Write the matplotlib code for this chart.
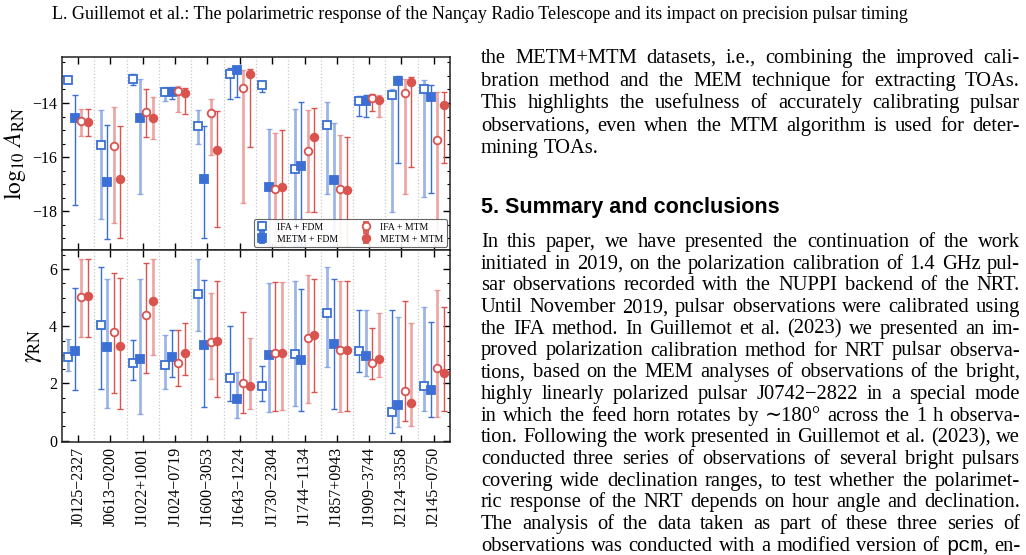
import numpy as np
import matplotlib
matplotlib.use("Agg")
import matplotlib.pyplot as plt
from matplotlib.ticker import MultipleLocator
from matplotlib.font_manager import FontProperties

#=========== Data ================
pulsars = ["J0125\u22122327", "J0613\u22120200", "J1022+1001", "J1024\u22120719",
           "J1600\u22123053", "J1643\u22121224", "J1730\u22122304", "J1744\u22121134",
           "J1857+0943", "J1909\u22123744", "J2124\u22123358", "J2145\u22120750"]

# log10 A_RN : median, lower and upper bounds
lgA_ifa_fdm = [-13.15, -15.56, -13.10, -13.61, -14.85, -12.94, -13.33, -16.45, -14.83, -13.94, -13.70, -13.47]
lgA_ifa_fdm_lo = [-13.18, -18.30, -13.35, -13.94, -15.50, -13.85, -13.61, -19.30, -17.36, -14.47, -18.01, -17.47]
lgA_ifa_fdm_hi = [-13.12, -14.25, -12.93, -13.40, -14.25, -12.70, -13.21, -14.21, -13.98, -13.73, -13.49, -13.16]

lgA_metm_fdm = [-14.56, -16.93, -14.54, -13.60, -16.79, -12.77, -17.11, -16.31, -16.85, -13.93, -13.19, -13.79]
lgA_metm_fdm_lo = [-17.77, -19.03, -17.36, -13.85, -18.98, -13.76, -19.30, -19.30, -19.30, -14.52, -16.22, -17.31]
lgA_metm_fdm_hi = [-13.72, -14.83, -13.11, -13.42, -14.85, -12.69, -14.96, -13.96, -14.74, -13.72, -12.99, -13.33]

lgA_ifa_mtm = [-14.68, -15.59, -14.32, -13.54, -14.38, -13.43, -17.17, -15.79, -17.19, -13.81, -13.63, -15.36]
lgA_ifa_mtm_lo = [-15.21, -18.42, -15.25, -14.35, -15.91, -17.71, -19.30, -18.01, -19.30, -14.29, -17.36, -19.30]
lgA_ifa_mtm_hi = [-14.21, -14.14, -13.47, -13.36, -13.87, -12.79, -15.12, -14.27, -15.20, -13.68, -13.10, -13.59]

lgA_metm_mtm = [-14.69, -16.81, -14.57, -13.63, -15.72, -12.94, -17.09, -15.26, -17.22, -13.88, -13.21, -14.07]
lgA_metm_mtm_lo = [-15.21, -19.00, -15.32, -14.40, -18.58, -15.63, -19.30, -18.01, -19.30, -14.51, -16.37, -16.20]
lgA_metm_mtm_hi = [-14.21, -14.86, -13.76, -13.44, -14.29, -12.76, -15.00, -14.20, -15.24, -13.72, -13.05, -13.59]

# gamma_RN : median, lower and upper bounds
gam_ifa_fdm = [2.93, 4.06, 2.71, 2.63, 5.12, 2.19, 1.90, 3.02, 4.45, 3.13, 1.00, 1.91]
gam_ifa_fdm_lo = [2.45, 1.81, 2.11, 1.80, 3.84, 1.39, 1.37, 1.21, 2.57, 2.39, 0.25, 1.05]
gam_ifa_fdm_hi = [3.55, 6.06, 3.51, 3.68, 6.34, 4.00, 2.61, 5.57, 6.06, 4.58, 4.56, 4.66]

gam_metm_fdm = [3.14, 3.27, 2.84, 2.93, 3.36, 1.47, 2.99, 2.81, 3.37, 2.96, 1.23, 1.76]
gam_metm_fdm_lo = [1.77, 1.13, 0.92, 2.21, 1.18, 0.78, 0.99, 1.04, 1.12, 2.26, 0.47, 0.81]
gam_metm_fdm_hi = [5.33, 5.67, 5.65, 3.86, 5.63, 2.40, 5.53, 5.32, 5.67, 4.58, 4.31, 4.16]

gam_ifa_mtm = [5.03, 3.79, 4.40, 2.71, 3.46, 2.01, 3.06, 3.60, 3.16, 2.71, 1.74, 2.53]
gam_ifa_mtm_lo = [3.62, 1.68, 2.35, 1.90, 2.14, 0.97, 1.03, 1.32, 1.00, 2.17, 0.69, 0.83]
gam_ifa_mtm_hi = [6.35, 5.87, 6.23, 3.86, 5.16, 4.49, 5.56, 5.81, 5.60, 3.95, 4.89, 5.26]

gam_metm_mtm = [5.05, 3.30, 4.87, 3.05, 3.50, 1.90, 3.05, 3.68, 3.17, 2.86, 1.32, 2.38]
gam_metm_mtm_lo = [3.62, 1.12, 3.01, 2.28, 1.53, 1.10, 1.06, 1.69, 1.02, 2.23, 0.51, 1.05]
gam_metm_mtm_hi = [6.35, 5.70, 6.35, 4.11, 5.57, 3.60, 5.54, 5.65, 5.60, 4.48, 4.11, 4.69]

# which intervals are shaded (L) or plain (D), per pulsar, in dataset order
lgA_shade = ["LDLD", "LDLD", "DLDL", "LDLD", "LDLD", "DDLD",
             "DLLD", "LDLD", "LLLD", "DDDL", "LDLD", "LDLD"]
gam_shade = ["LDLD", "DLDD", "DLDL", "LDDD", "LDLD", "DLDL",
             "DLDL", "LDLD", "LDLD", "DLDL", "DLDL", "LDLD"]

datasets = ["IFA + FDM", "METM + FDM", "IFA + MTM", "METM + MTM"]

header = ("L. Guillemot et al.: The polarimetric response of the Nan\u00e7ay Radio Telescope "
          "and its impact on precision pulsar timing")
para1 = ["the METM+MTM datasets, i.e., combining the improved cali-",
         "bration method and the MEM technique for extracting TOAs.",
         "This highlights the usefulness of accurately calibrating pulsar",
         "observations, even when the MTM algorithm is used for deter-",
         "mining TOAs."]
heading = "5. Summary and conclusions"
para2 = ["In this paper, we have presented the continuation of the work",
         "initiated in 2019, on the polarization calibration of 1.4 GHz pul-",
         "sar observations recorded with the NUPPI backend of the NRT.",
         "Until November 2019, pulsar observations were calibrated using",
         "the IFA method. In Guillemot et al. (2023) we presented an im-",
         "proved polarization calibration method for NRT pulsar observa-",
         "tions, based on the MEM analyses of observations of the bright,",
         "highly linearly polarized pulsar J0742\u22122822 in a special mode",
         "in which the feed horn rotates by \u223c180\u00b0 across the 1 h observa-",
         "tion. Following the work presented in Guillemot et al. (2023), we",
         "conducted three series of observations of several bright pulsars",
         "covering wide declination ranges, to test whether the polarimet-",
         "ric response of the NRT depends on hour angle and declination.",
         "The analysis of the data taken as part of these three series of",
         "observations was conducted with a modified version of pcm, en-"]

#=========== Figure ================
W, H = 1026, 555
BLUE = "#3b6fd4"
RED = "#d9534f"
SERIF = ["Liberation Serif", "DejaVu Serif"]
plt.rcParams["font.family"] = SERIF
plt.rcParams["mathtext.fontset"] = "stix"

fig = plt.figure(figsize=(W / 100, H / 100), dpi=100)
ax1 = fig.add_axes([62 / W, 1 - 250 / H, 388 / W, 193 / H])
ax2 = fig.add_axes([62 / W, 1 - 442 / H, 388 / W, 192 / H])

styles = [("s", BLUE, True), ("s", BLUE, False), ("o", RED, True), ("o", RED, False)]
offsets = [-0.3, -0.1, 0.1, 0.3]
x = np.arange(len(pulsars))


def draw_panel(ax, series, shade):
    for k, ((mk, col, hollow), (val, lo, hi)) in enumerate(zip(styles, series)):
        val, lo, hi = np.asarray(val), np.asarray(lo), np.asarray(hi)
        xs = x + offsets[k]
        for i in range(len(x)):
            light = shade[i][k] == "L"
            ax.errorbar(xs[i], val[i], yerr=[[val[i] - lo[i]], [hi[i] - val[i]]], fmt="none",
                        ecolor=col, alpha=0.5 if light else 1.0,
                        elinewidth=2.0 if light else 1.0, capsize=2.2, capthick=1.0, zorder=2)
        ax.plot(xs, val, ls="none", marker=mk, ms=5.5, mec=col, mew=1.3,
                mfc="white" if hollow else col, zorder=3)
    for v in np.arange(0.5, len(x) - 1, 1.0):
        ax.axvline(v, color="#c8c8c8", ls=":", lw=0.9, zorder=0)


draw_panel(ax1, [(lgA_ifa_fdm, lgA_ifa_fdm_lo, lgA_ifa_fdm_hi),
                 (lgA_metm_fdm, lgA_metm_fdm_lo, lgA_metm_fdm_hi),
                 (lgA_ifa_mtm, lgA_ifa_mtm_lo, lgA_ifa_mtm_hi),
                 (lgA_metm_mtm, lgA_metm_mtm_lo, lgA_metm_mtm_hi)], lgA_shade)
draw_panel(ax2, [(gam_ifa_fdm, gam_ifa_fdm_lo, gam_ifa_fdm_hi),
                 (gam_metm_fdm, gam_metm_fdm_lo, gam_metm_fdm_hi),
                 (gam_ifa_mtm, gam_ifa_mtm_lo, gam_ifa_mtm_hi),
                 (gam_metm_mtm, gam_metm_mtm_lo, gam_metm_mtm_hi)], gam_shade)

# legend handles (no data, just the symbols)
handles = []
for (mk, col, hollow), lab in zip(styles, datasets):
    h = ax1.errorbar([np.nan], [np.nan], yerr=[[0.1], [0.1]], fmt=mk, ms=5.5, mec=col, mew=1.3,
                     mfc="white" if hollow else col, ecolor=col, elinewidth=1.0, capsize=2.2,
                     label=lab)
    handles.append(h)
leg = ax1.legend(handles=handles, ncol=2, loc="lower right", fontsize=7, frameon=True,
                 fancybox=True, edgecolor="#555555", framealpha=0.9, borderaxespad=0.3,
                 columnspacing=2.4, handlelength=1.0, handletextpad=1.0, borderpad=0.35,
                 labelspacing=0.3)
leg.get_frame().set_linewidth(0.8)

for ax in (ax1, ax2):
    ax.set_xlim(-0.5, len(x) - 0.5)
    ax.set_xticks(x)
    ax.yaxis.set_major_locator(MultipleLocator(2))
    ax.yaxis.set_minor_locator(MultipleLocator(0.5))
    ax.tick_params(which="both", direction="in", top=True, right=True, labelsize=11.5)
    ax.tick_params(which="major", length=5, width=1.0)
    ax.tick_params(which="minor", length=2.5, width=0.8)
    for s in ax.spines.values():
        s.set_linewidth(1.1)
        s.set_color("#222222")

ax1.set_ylim(-19.43, -12.3)
ax2.set_ylim(-0.05, 6.67)
ax1.tick_params(labelbottom=False)
ax2.set_xticklabels(pulsars, rotation=90)
ax1.set_ylabel(r"$\log_{10}\,A_{\rm RN}$", fontsize=17, labelpad=3)
ax2.set_ylabel(r"$\gamma_{\rm RN}$", fontsize=17, labelpad=4)

#=========== Page text ================
renderer = fig.canvas.get_renderer()
X0, X1 = 481, 1020


def text_width(s, prop):
    return renderer.get_text_width_height_descent(s, prop, ismath=False)[0]


def line_parts(line, serif, mono):
    parts = []
    for w in line.split(" "):
        if w.startswith("pcm"):
            parts.append([("pcm", mono), (w[3:], serif)])
        else:
            parts.append([(w, serif)])
    return parts


def put_line(line, y, serif, mono, justify=True):
    parts = line_parts(line, serif, mono)
    widths = [sum(text_width(s, p) for s, p in ps if s) for ps in parts]
    space = text_width("a a", serif) - text_width("aa", serif)
    gap = (X1 - X0 - sum(widths)) / (len(parts) - 1) if justify else space
    xp = X0
    for ps, wd in zip(parts, widths):
        xx = xp
        for s, p in ps:
            if s:
                fig.text(xx / W, 1 - y / H, s, fontproperties=p, ha="left", va="baseline")
                xx += text_width(s, p)
        xp += wd + gap


# body size chosen so the widest line just fills the column
probe = FontProperties(family=SERIF, size=10)
probe_mono = FontProperties(family="Liberation Mono", size=10)
natural = max(sum(text_width(s, p) for ps in line_parts(l, probe, probe_mono) for s, p in ps if s)
              + (len(l.split(" ")) - 1) * (text_width("a a", probe) - text_width("aa", probe))
              for l in para1[:-1] + para2)
body = 10 * (X1 - X0) / natural * 0.995
serif = FontProperties(family=SERIF, size=body)
mono = FontProperties(family="Liberation Mono", size=body)

for j, line in enumerate(para1):
    put_line(line, 63 + 22.6 * j, serif, mono, justify=(j < len(para1) - 1))
for j, line in enumerate(para2):
    put_line(line, 247 + 21.7 * j, serif, mono, justify=True)

fig.text(X0 / W, 1 - 207 / H, heading,
         fontproperties=FontProperties(family="Liberation Sans", weight="bold", size=15.5),
         ha="left", va="center")
fig.text(480 / W, 1 - 14 / H, header, fontsize=13, ha="center", va="center")

fig.savefig("out.png", dpi=100)
